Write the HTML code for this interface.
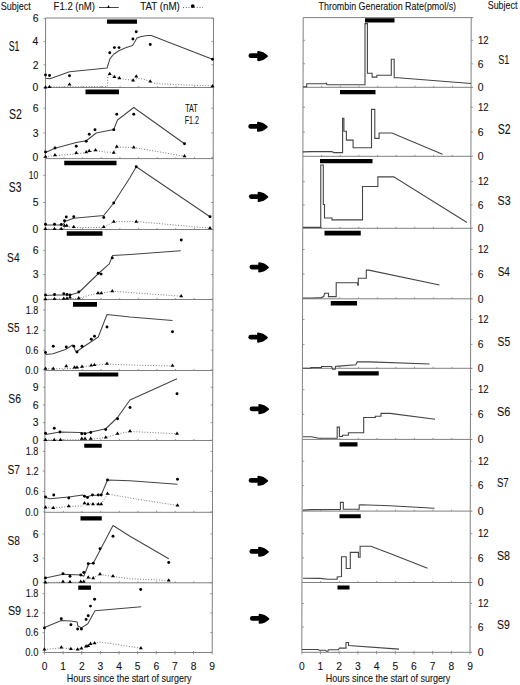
<!DOCTYPE html>
<html><head><meta charset="utf-8"><style>
html,body{margin:0;padding:0;background:#fff;}
svg{display:block;}
text{font-family:"Liberation Sans",sans-serif;stroke:#1a1a1a;stroke-width:0.1px;}
</style></head><body>
<svg width="520" height="685" viewBox="0 0 520 685">
<rect width="520" height="685" fill="#fff"/>
<text x="0.63" y="9.90" font-size="11.01" textLength="30.14" lengthAdjust="spacingAndGlyphs" fill="#111">Subject</text>
<text x="53.58" y="9.70" font-size="10.18" textLength="41.44" lengthAdjust="spacingAndGlyphs" fill="#111">F1.2 (nM)</text>
<polyline points="99.00,7.50 118.75,7.50" fill="none" stroke="#454545" stroke-width="1"/>
<path d="M107.1,7.9L108.5,5.0L109.9,7.9Z" fill="#000"/>
<text x="140.25" y="9.70" font-size="10.60" textLength="39.60" lengthAdjust="spacingAndGlyphs" fill="#111">TAT (nM)</text>
<polyline points="183.00,7.50 203.00,7.50" fill="none" stroke="#6a6a6a" stroke-width="1" stroke-dasharray="1,1.75"/>
<circle cx="192.75" cy="6.10" r="1.85"/>
<text x="318.57" y="10.20" font-size="10.32" textLength="137.49" lengthAdjust="spacingAndGlyphs" fill="#111">Thrombin Generation Rate(pmol/s)</text>
<text x="487.73" y="8.75" font-size="10.67" textLength="29.73" lengthAdjust="spacingAndGlyphs" fill="#111">Subject</text>
<g stroke="#808080" stroke-width="1" fill="none">
<line x1="45.60" y1="18.0" x2="44.50" y2="652.5"/>
<line x1="213.50" y1="18.0" x2="212.20" y2="652.5"/>
<line x1="45.60" y1="18.0" x2="213.50" y2="18.0"/>
<line x1="45.48" y1="87.5" x2="213.36" y2="87.5"/>
<line x1="45.36" y1="158.6" x2="213.21" y2="158.6"/>
<line x1="45.23" y1="229.5" x2="213.07" y2="229.5"/>
<line x1="45.11" y1="299.5" x2="212.92" y2="299.5"/>
<line x1="44.99" y1="370.5" x2="212.78" y2="370.5"/>
<line x1="44.87" y1="440.5" x2="212.63" y2="440.5"/>
<line x1="44.74" y1="512.3" x2="212.49" y2="512.3"/>
<line x1="44.62" y1="582.8" x2="212.34" y2="582.8"/>
<line x1="44.50" y1="652.5" x2="212.20" y2="652.5"/>
</g>
<g stroke="#808080" stroke-width="0.8">
<line x1="43.60" y1="18.6" x2="45.60" y2="18.6"/>
<line x1="211.50" y1="18.6" x2="213.50" y2="18.6"/>
<line x1="43.56" y1="41.45" x2="45.56" y2="41.45"/>
<line x1="211.45" y1="41.45" x2="213.45" y2="41.45"/>
<line x1="43.52" y1="64.8" x2="45.52" y2="64.8"/>
<line x1="211.40" y1="64.8" x2="213.40" y2="64.8"/>
<line x1="43.48" y1="87.5" x2="45.48" y2="87.5"/>
<line x1="211.36" y1="87.5" x2="213.36" y2="87.5"/>
<line x1="43.44" y1="108.2" x2="45.44" y2="108.2"/>
<line x1="211.32" y1="108.2" x2="213.32" y2="108.2"/>
<line x1="43.40" y1="132.9" x2="45.40" y2="132.9"/>
<line x1="211.26" y1="132.9" x2="213.26" y2="132.9"/>
<line x1="43.36" y1="157.5" x2="45.36" y2="157.5"/>
<line x1="211.21" y1="157.5" x2="213.21" y2="157.5"/>
<line x1="43.33" y1="175.3" x2="45.33" y2="175.3"/>
<line x1="211.18" y1="175.3" x2="213.18" y2="175.3"/>
<line x1="43.28" y1="202.5" x2="45.28" y2="202.5"/>
<line x1="211.12" y1="202.5" x2="213.12" y2="202.5"/>
<line x1="43.23" y1="229.3" x2="45.23" y2="229.3"/>
<line x1="211.07" y1="229.3" x2="213.07" y2="229.3"/>
<line x1="43.20" y1="250.3" x2="45.20" y2="250.3"/>
<line x1="211.02" y1="250.3" x2="213.02" y2="250.3"/>
<line x1="43.16" y1="274.6" x2="45.16" y2="274.6"/>
<line x1="210.97" y1="274.6" x2="212.97" y2="274.6"/>
<line x1="43.11" y1="299.3" x2="45.11" y2="299.3"/>
<line x1="210.92" y1="299.3" x2="212.92" y2="299.3"/>
<line x1="43.09" y1="310.0" x2="45.09" y2="310.0"/>
<line x1="210.90" y1="310.0" x2="212.90" y2="310.0"/>
<line x1="43.06" y1="330.3" x2="45.06" y2="330.3"/>
<line x1="210.86" y1="330.3" x2="212.86" y2="330.3"/>
<line x1="43.02" y1="350.2" x2="45.02" y2="350.2"/>
<line x1="210.82" y1="350.2" x2="212.82" y2="350.2"/>
<line x1="42.99" y1="369.8" x2="44.99" y2="369.8"/>
<line x1="210.78" y1="369.8" x2="212.78" y2="369.8"/>
<line x1="42.96" y1="387.3" x2="44.96" y2="387.3"/>
<line x1="210.74" y1="387.3" x2="212.74" y2="387.3"/>
<line x1="42.93" y1="405.1" x2="44.93" y2="405.1"/>
<line x1="210.71" y1="405.1" x2="212.71" y2="405.1"/>
<line x1="42.90" y1="422.6" x2="44.90" y2="422.6"/>
<line x1="210.67" y1="422.6" x2="212.67" y2="422.6"/>
<line x1="42.87" y1="440.2" x2="44.87" y2="440.2"/>
<line x1="210.63" y1="440.2" x2="212.63" y2="440.2"/>
<line x1="42.85" y1="451.4" x2="44.85" y2="451.4"/>
<line x1="210.61" y1="451.4" x2="212.61" y2="451.4"/>
<line x1="42.81" y1="471.0" x2="44.81" y2="471.0"/>
<line x1="210.57" y1="471.0" x2="212.57" y2="471.0"/>
<line x1="42.78" y1="491.5" x2="44.78" y2="491.5"/>
<line x1="210.53" y1="491.5" x2="212.53" y2="491.5"/>
<line x1="42.74" y1="511.9" x2="44.74" y2="511.9"/>
<line x1="210.49" y1="511.9" x2="212.49" y2="511.9"/>
<line x1="42.71" y1="533.9" x2="44.71" y2="533.9"/>
<line x1="210.44" y1="533.9" x2="212.44" y2="533.9"/>
<line x1="42.66" y1="558.2" x2="44.66" y2="558.2"/>
<line x1="210.39" y1="558.2" x2="212.39" y2="558.2"/>
<line x1="42.62" y1="582.6" x2="44.62" y2="582.6"/>
<line x1="210.34" y1="582.6" x2="212.34" y2="582.6"/>
<line x1="42.60" y1="593.7" x2="44.60" y2="593.7"/>
<line x1="210.32" y1="593.7" x2="212.32" y2="593.7"/>
<line x1="42.57" y1="613.0" x2="44.57" y2="613.0"/>
<line x1="210.28" y1="613.0" x2="212.28" y2="613.0"/>
<line x1="42.53" y1="632.6" x2="44.53" y2="632.6"/>
<line x1="210.24" y1="632.6" x2="212.24" y2="632.6"/>
<line x1="42.50" y1="652.3" x2="44.50" y2="652.3"/>
<line x1="210.20" y1="652.3" x2="212.20" y2="652.3"/>
</g>
<text x="32.66" y="22.35" font-size="10.40" textLength="5.78" lengthAdjust="spacingAndGlyphs" fill="#111">6</text>
<text x="32.52" y="45.20" font-size="10.40" textLength="5.78" lengthAdjust="spacingAndGlyphs" fill="#111">4</text>
<text x="32.73" y="68.55" font-size="10.40" textLength="5.78" lengthAdjust="spacingAndGlyphs" fill="#111">2</text>
<text x="32.59" y="91.25" font-size="10.40" textLength="5.78" lengthAdjust="spacingAndGlyphs" fill="#111">0</text>
<text x="32.66" y="111.95" font-size="10.40" textLength="5.78" lengthAdjust="spacingAndGlyphs" fill="#111">6</text>
<text x="32.66" y="136.65" font-size="10.40" textLength="5.78" lengthAdjust="spacingAndGlyphs" fill="#111">3</text>
<text x="32.59" y="161.25" font-size="10.40" textLength="5.78" lengthAdjust="spacingAndGlyphs" fill="#111">0</text>
<text x="28.85" y="179.05" font-size="10.40" textLength="9.49" lengthAdjust="spacingAndGlyphs" fill="#111">10</text>
<text x="32.66" y="206.25" font-size="10.40" textLength="5.78" lengthAdjust="spacingAndGlyphs" fill="#111">5</text>
<text x="32.59" y="233.05" font-size="10.40" textLength="5.78" lengthAdjust="spacingAndGlyphs" fill="#111">0</text>
<text x="32.66" y="254.05" font-size="10.40" textLength="5.78" lengthAdjust="spacingAndGlyphs" fill="#111">6</text>
<text x="32.66" y="278.35" font-size="10.40" textLength="5.78" lengthAdjust="spacingAndGlyphs" fill="#111">3</text>
<text x="32.59" y="303.05" font-size="10.40" textLength="5.78" lengthAdjust="spacingAndGlyphs" fill="#111">0</text>
<text x="25.82" y="313.75" font-size="10.40" textLength="12.58" lengthAdjust="spacingAndGlyphs" fill="#111">1.8</text>
<text x="25.88" y="334.05" font-size="10.40" textLength="12.58" lengthAdjust="spacingAndGlyphs" fill="#111">1.2</text>
<text x="25.40" y="353.95" font-size="10.40" textLength="13.01" lengthAdjust="spacingAndGlyphs" fill="#111">0.6</text>
<text x="25.33" y="373.55" font-size="10.40" textLength="13.01" lengthAdjust="spacingAndGlyphs" fill="#111">0.0</text>
<text x="32.73" y="391.05" font-size="10.40" textLength="5.78" lengthAdjust="spacingAndGlyphs" fill="#111">9</text>
<text x="32.66" y="408.85" font-size="10.40" textLength="5.78" lengthAdjust="spacingAndGlyphs" fill="#111">6</text>
<text x="32.66" y="426.35" font-size="10.40" textLength="5.78" lengthAdjust="spacingAndGlyphs" fill="#111">3</text>
<text x="32.59" y="443.95" font-size="10.40" textLength="5.78" lengthAdjust="spacingAndGlyphs" fill="#111">0</text>
<text x="25.82" y="455.15" font-size="10.40" textLength="12.58" lengthAdjust="spacingAndGlyphs" fill="#111">1.8</text>
<text x="25.88" y="474.75" font-size="10.40" textLength="12.58" lengthAdjust="spacingAndGlyphs" fill="#111">1.2</text>
<text x="25.40" y="495.25" font-size="10.40" textLength="13.01" lengthAdjust="spacingAndGlyphs" fill="#111">0.6</text>
<text x="25.33" y="515.65" font-size="10.40" textLength="13.01" lengthAdjust="spacingAndGlyphs" fill="#111">0.0</text>
<text x="32.66" y="537.65" font-size="10.40" textLength="5.78" lengthAdjust="spacingAndGlyphs" fill="#111">6</text>
<text x="32.66" y="561.95" font-size="10.40" textLength="5.78" lengthAdjust="spacingAndGlyphs" fill="#111">3</text>
<text x="32.59" y="586.35" font-size="10.40" textLength="5.78" lengthAdjust="spacingAndGlyphs" fill="#111">0</text>
<text x="25.82" y="597.45" font-size="10.40" textLength="12.58" lengthAdjust="spacingAndGlyphs" fill="#111">1.8</text>
<text x="25.88" y="616.75" font-size="10.40" textLength="12.58" lengthAdjust="spacingAndGlyphs" fill="#111">1.2</text>
<text x="25.40" y="636.35" font-size="10.40" textLength="13.01" lengthAdjust="spacingAndGlyphs" fill="#111">0.6</text>
<text x="25.33" y="656.05" font-size="10.40" textLength="13.01" lengthAdjust="spacingAndGlyphs" fill="#111">0.0</text>
<text x="8.69" y="50.80" font-size="14.00" textLength="10.75" lengthAdjust="spacingAndGlyphs" fill="#111">S1</text>
<text x="8.91" y="119.30" font-size="13.71" textLength="12.92" lengthAdjust="spacingAndGlyphs" fill="#111">S2</text>
<text x="8.82" y="191.90" font-size="14.00" textLength="12.63" lengthAdjust="spacingAndGlyphs" fill="#111">S3</text>
<text x="7.12" y="261.90" font-size="13.29" textLength="12.48" lengthAdjust="spacingAndGlyphs" fill="#111">S4</text>
<text x="7.34" y="332.30" font-size="13.00" textLength="12.09" lengthAdjust="spacingAndGlyphs" fill="#111">S5</text>
<text x="8.37" y="402.70" font-size="13.57" textLength="12.68" lengthAdjust="spacingAndGlyphs" fill="#111">S6</text>
<text x="7.52" y="473.90" font-size="12.43" textLength="12.48" lengthAdjust="spacingAndGlyphs" fill="#111">S7</text>
<text x="7.53" y="544.90" font-size="13.00" textLength="12.41" lengthAdjust="spacingAndGlyphs" fill="#111">S8</text>
<text x="7.89" y="614.90" font-size="12.57" textLength="13.24" lengthAdjust="spacingAndGlyphs" fill="#111">S9</text>
<g stroke="#808080" stroke-width="1" fill="none">
<line x1="303.20" y1="17.6" x2="301.80" y2="652.3"/>
<line x1="471.20" y1="17.6" x2="470.00" y2="652.3"/>
<line x1="303.20" y1="17.6" x2="473.20" y2="17.6"/>
<line x1="303.05" y1="87.3" x2="473.07" y2="87.3"/>
<line x1="302.89" y1="156.3" x2="472.94" y2="156.3"/>
<line x1="302.74" y1="228.3" x2="472.80" y2="228.3"/>
<line x1="302.58" y1="298.8" x2="472.67" y2="298.8"/>
<line x1="302.43" y1="368.3" x2="472.54" y2="368.3"/>
<line x1="302.27" y1="439.4" x2="472.40" y2="439.4"/>
<line x1="302.11" y1="511.1" x2="472.27" y2="511.1"/>
<line x1="301.95" y1="582.5" x2="472.13" y2="582.5"/>
<line x1="301.80" y1="652.3" x2="472.00" y2="652.3"/>
</g>
<g stroke="#808080" stroke-width="0.8">
<line x1="303.15" y1="40.3" x2="305.15" y2="40.3"/>
<line x1="471.16" y1="40.3" x2="473.16" y2="40.3"/>
<line x1="303.10" y1="63.8" x2="305.10" y2="63.8"/>
<line x1="471.11" y1="63.8" x2="473.11" y2="63.8"/>
<line x1="303.00" y1="107.3" x2="305.00" y2="107.3"/>
<line x1="471.03" y1="107.3" x2="473.03" y2="107.3"/>
<line x1="302.95" y1="132.2" x2="304.95" y2="132.2"/>
<line x1="470.98" y1="132.2" x2="472.98" y2="132.2"/>
<line x1="302.84" y1="181.6" x2="304.84" y2="181.6"/>
<line x1="470.89" y1="181.6" x2="472.89" y2="181.6"/>
<line x1="302.79" y1="205.0" x2="304.79" y2="205.0"/>
<line x1="470.85" y1="205.0" x2="472.85" y2="205.0"/>
<line x1="302.69" y1="249.5" x2="304.69" y2="249.5"/>
<line x1="470.76" y1="249.5" x2="472.76" y2="249.5"/>
<line x1="302.63" y1="274.0" x2="304.63" y2="274.0"/>
<line x1="470.72" y1="274.0" x2="472.72" y2="274.0"/>
<line x1="302.53" y1="319.6" x2="304.53" y2="319.6"/>
<line x1="470.63" y1="319.6" x2="472.63" y2="319.6"/>
<line x1="302.48" y1="344.4" x2="304.48" y2="344.4"/>
<line x1="470.58" y1="344.4" x2="472.58" y2="344.4"/>
<line x1="302.38" y1="389.6" x2="304.38" y2="389.6"/>
<line x1="470.50" y1="389.6" x2="472.50" y2="389.6"/>
<line x1="302.32" y1="414.4" x2="304.32" y2="414.4"/>
<line x1="470.45" y1="414.4" x2="472.45" y2="414.4"/>
<line x1="302.22" y1="461.2" x2="304.22" y2="461.2"/>
<line x1="470.36" y1="461.2" x2="472.36" y2="461.2"/>
<line x1="302.17" y1="485.6" x2="304.17" y2="485.6"/>
<line x1="470.32" y1="485.6" x2="472.32" y2="485.6"/>
<line x1="302.06" y1="533.7" x2="304.06" y2="533.7"/>
<line x1="470.22" y1="533.7" x2="472.22" y2="533.7"/>
<line x1="302.01" y1="558.0" x2="304.01" y2="558.0"/>
<line x1="470.18" y1="558.0" x2="472.18" y2="558.0"/>
<line x1="301.91" y1="603.5" x2="303.91" y2="603.5"/>
<line x1="470.09" y1="603.5" x2="472.09" y2="603.5"/>
<line x1="301.86" y1="627.1" x2="303.86" y2="627.1"/>
<line x1="470.05" y1="627.1" x2="472.05" y2="627.1"/>
</g>
<text x="477.90" y="44.05" font-size="10.40" textLength="10.64" lengthAdjust="spacingAndGlyphs" fill="#111">12</text>
<text x="477.65" y="67.55" font-size="10.40" textLength="5.78" lengthAdjust="spacingAndGlyphs" fill="#111">6</text>
<text x="477.78" y="91.05" font-size="10.40" textLength="5.78" lengthAdjust="spacingAndGlyphs" fill="#111">0</text>
<text x="477.90" y="111.05" font-size="10.40" textLength="10.64" lengthAdjust="spacingAndGlyphs" fill="#111">12</text>
<text x="477.65" y="135.95" font-size="10.40" textLength="5.78" lengthAdjust="spacingAndGlyphs" fill="#111">6</text>
<text x="477.78" y="160.05" font-size="10.40" textLength="5.78" lengthAdjust="spacingAndGlyphs" fill="#111">0</text>
<text x="477.90" y="185.35" font-size="10.40" textLength="10.64" lengthAdjust="spacingAndGlyphs" fill="#111">12</text>
<text x="477.65" y="208.75" font-size="10.40" textLength="5.78" lengthAdjust="spacingAndGlyphs" fill="#111">6</text>
<text x="477.78" y="232.05" font-size="10.40" textLength="5.78" lengthAdjust="spacingAndGlyphs" fill="#111">0</text>
<text x="477.90" y="253.25" font-size="10.40" textLength="10.64" lengthAdjust="spacingAndGlyphs" fill="#111">12</text>
<text x="477.65" y="277.75" font-size="10.40" textLength="5.78" lengthAdjust="spacingAndGlyphs" fill="#111">6</text>
<text x="477.78" y="302.55" font-size="10.40" textLength="5.78" lengthAdjust="spacingAndGlyphs" fill="#111">0</text>
<text x="477.90" y="323.35" font-size="10.40" textLength="10.64" lengthAdjust="spacingAndGlyphs" fill="#111">12</text>
<text x="477.65" y="348.15" font-size="10.40" textLength="5.78" lengthAdjust="spacingAndGlyphs" fill="#111">6</text>
<text x="477.78" y="372.05" font-size="10.40" textLength="5.78" lengthAdjust="spacingAndGlyphs" fill="#111">0</text>
<text x="477.90" y="393.35" font-size="10.40" textLength="10.64" lengthAdjust="spacingAndGlyphs" fill="#111">12</text>
<text x="477.65" y="418.15" font-size="10.40" textLength="5.78" lengthAdjust="spacingAndGlyphs" fill="#111">6</text>
<text x="477.78" y="443.15" font-size="10.40" textLength="5.78" lengthAdjust="spacingAndGlyphs" fill="#111">0</text>
<text x="477.90" y="464.95" font-size="10.40" textLength="10.64" lengthAdjust="spacingAndGlyphs" fill="#111">12</text>
<text x="477.65" y="489.35" font-size="10.40" textLength="5.78" lengthAdjust="spacingAndGlyphs" fill="#111">6</text>
<text x="477.78" y="514.85" font-size="10.40" textLength="5.78" lengthAdjust="spacingAndGlyphs" fill="#111">0</text>
<text x="477.90" y="537.45" font-size="10.40" textLength="10.64" lengthAdjust="spacingAndGlyphs" fill="#111">12</text>
<text x="477.65" y="561.75" font-size="10.40" textLength="5.78" lengthAdjust="spacingAndGlyphs" fill="#111">6</text>
<text x="477.78" y="586.25" font-size="10.40" textLength="5.78" lengthAdjust="spacingAndGlyphs" fill="#111">0</text>
<text x="477.90" y="607.25" font-size="10.40" textLength="10.64" lengthAdjust="spacingAndGlyphs" fill="#111">12</text>
<text x="477.65" y="630.85" font-size="10.40" textLength="5.78" lengthAdjust="spacingAndGlyphs" fill="#111">6</text>
<text x="477.78" y="656.05" font-size="10.40" textLength="5.78" lengthAdjust="spacingAndGlyphs" fill="#111">0</text>
<text x="498.27" y="64.00" font-size="13.43" textLength="11.18" lengthAdjust="spacingAndGlyphs" fill="#111">S1</text>
<text x="497.81" y="133.80" font-size="13.71" textLength="12.92" lengthAdjust="spacingAndGlyphs" fill="#111">S2</text>
<text x="497.60" y="205.40" font-size="13.14" textLength="13.06" lengthAdjust="spacingAndGlyphs" fill="#111">S3</text>
<text x="497.64" y="275.80" font-size="13.14" textLength="12.16" lengthAdjust="spacingAndGlyphs" fill="#111">S4</text>
<text x="497.62" y="346.10" font-size="13.14" textLength="12.63" lengthAdjust="spacingAndGlyphs" fill="#111">S5</text>
<text x="496.89" y="416.20" font-size="13.14" textLength="13.38" lengthAdjust="spacingAndGlyphs" fill="#111">S6</text>
<text x="496.95" y="487.20" font-size="12.86" textLength="11.72" lengthAdjust="spacingAndGlyphs" fill="#111">S7</text>
<text x="496.90" y="559.50" font-size="13.14" textLength="13.06" lengthAdjust="spacingAndGlyphs" fill="#111">S8</text>
<text x="496.91" y="629.10" font-size="13.14" textLength="12.81" lengthAdjust="spacingAndGlyphs" fill="#111">S9</text>
<g stroke="#808080" stroke-width="0.8">
<line x1="64.13" y1="86.0" x2="64.13" y2="87.5"/>
<line x1="82.79" y1="86.0" x2="82.79" y2="87.5"/>
<line x1="101.44" y1="86.0" x2="101.44" y2="87.5"/>
<line x1="120.09" y1="86.0" x2="120.09" y2="87.5"/>
<line x1="138.75" y1="86.0" x2="138.75" y2="87.5"/>
<line x1="157.40" y1="86.0" x2="157.40" y2="87.5"/>
<line x1="176.05" y1="86.0" x2="176.05" y2="87.5"/>
<line x1="194.70" y1="86.0" x2="194.70" y2="87.5"/>
<line x1="64.01" y1="157.1" x2="64.01" y2="158.6"/>
<line x1="82.66" y1="157.1" x2="82.66" y2="158.6"/>
<line x1="101.31" y1="157.1" x2="101.31" y2="158.6"/>
<line x1="119.96" y1="157.1" x2="119.96" y2="158.6"/>
<line x1="138.61" y1="157.1" x2="138.61" y2="158.6"/>
<line x1="157.26" y1="157.1" x2="157.26" y2="158.6"/>
<line x1="175.91" y1="157.1" x2="175.91" y2="158.6"/>
<line x1="194.56" y1="157.1" x2="194.56" y2="158.6"/>
<line x1="63.88" y1="228.0" x2="63.88" y2="229.5"/>
<line x1="82.53" y1="228.0" x2="82.53" y2="229.5"/>
<line x1="101.18" y1="228.0" x2="101.18" y2="229.5"/>
<line x1="119.83" y1="228.0" x2="119.83" y2="229.5"/>
<line x1="138.47" y1="228.0" x2="138.47" y2="229.5"/>
<line x1="157.12" y1="228.0" x2="157.12" y2="229.5"/>
<line x1="175.77" y1="228.0" x2="175.77" y2="229.5"/>
<line x1="194.42" y1="228.0" x2="194.42" y2="229.5"/>
<line x1="63.76" y1="298.0" x2="63.76" y2="299.5"/>
<line x1="82.40" y1="298.0" x2="82.40" y2="299.5"/>
<line x1="101.05" y1="298.0" x2="101.05" y2="299.5"/>
<line x1="119.69" y1="298.0" x2="119.69" y2="299.5"/>
<line x1="138.34" y1="298.0" x2="138.34" y2="299.5"/>
<line x1="156.99" y1="298.0" x2="156.99" y2="299.5"/>
<line x1="175.63" y1="298.0" x2="175.63" y2="299.5"/>
<line x1="194.28" y1="298.0" x2="194.28" y2="299.5"/>
<line x1="63.63" y1="369.0" x2="63.63" y2="370.5"/>
<line x1="82.28" y1="369.0" x2="82.28" y2="370.5"/>
<line x1="100.92" y1="369.0" x2="100.92" y2="370.5"/>
<line x1="119.56" y1="369.0" x2="119.56" y2="370.5"/>
<line x1="138.20" y1="369.0" x2="138.20" y2="370.5"/>
<line x1="156.85" y1="369.0" x2="156.85" y2="370.5"/>
<line x1="175.49" y1="369.0" x2="175.49" y2="370.5"/>
<line x1="194.13" y1="369.0" x2="194.13" y2="370.5"/>
<line x1="63.51" y1="439.0" x2="63.51" y2="440.5"/>
<line x1="82.15" y1="439.0" x2="82.15" y2="440.5"/>
<line x1="100.79" y1="439.0" x2="100.79" y2="440.5"/>
<line x1="119.43" y1="439.0" x2="119.43" y2="440.5"/>
<line x1="138.07" y1="439.0" x2="138.07" y2="440.5"/>
<line x1="156.71" y1="439.0" x2="156.71" y2="440.5"/>
<line x1="175.35" y1="439.0" x2="175.35" y2="440.5"/>
<line x1="193.99" y1="439.0" x2="193.99" y2="440.5"/>
<line x1="63.38" y1="510.79999999999995" x2="63.38" y2="512.3"/>
<line x1="82.02" y1="510.79999999999995" x2="82.02" y2="512.3"/>
<line x1="100.66" y1="510.79999999999995" x2="100.66" y2="512.3"/>
<line x1="119.30" y1="510.79999999999995" x2="119.30" y2="512.3"/>
<line x1="137.93" y1="510.79999999999995" x2="137.93" y2="512.3"/>
<line x1="156.57" y1="510.79999999999995" x2="156.57" y2="512.3"/>
<line x1="175.21" y1="510.79999999999995" x2="175.21" y2="512.3"/>
<line x1="193.85" y1="510.79999999999995" x2="193.85" y2="512.3"/>
<line x1="63.26" y1="581.3" x2="63.26" y2="582.8"/>
<line x1="81.89" y1="581.3" x2="81.89" y2="582.8"/>
<line x1="100.53" y1="581.3" x2="100.53" y2="582.8"/>
<line x1="119.16" y1="581.3" x2="119.16" y2="582.8"/>
<line x1="137.80" y1="581.3" x2="137.80" y2="582.8"/>
<line x1="156.44" y1="581.3" x2="156.44" y2="582.8"/>
<line x1="175.07" y1="581.3" x2="175.07" y2="582.8"/>
<line x1="193.71" y1="581.3" x2="193.71" y2="582.8"/>
<line x1="63.13" y1="651.0" x2="63.13" y2="652.5"/>
<line x1="81.77" y1="651.0" x2="81.77" y2="652.5"/>
<line x1="100.40" y1="651.0" x2="100.40" y2="652.5"/>
<line x1="119.03" y1="651.0" x2="119.03" y2="652.5"/>
<line x1="137.67" y1="651.0" x2="137.67" y2="652.5"/>
<line x1="156.30" y1="651.0" x2="156.30" y2="652.5"/>
<line x1="174.93" y1="651.0" x2="174.93" y2="652.5"/>
<line x1="193.57" y1="651.0" x2="193.57" y2="652.5"/>
<line x1="321.72" y1="85.8" x2="321.72" y2="87.3"/>
<line x1="340.38" y1="85.8" x2="340.38" y2="87.3"/>
<line x1="359.05" y1="85.8" x2="359.05" y2="87.3"/>
<line x1="377.72" y1="85.8" x2="377.72" y2="87.3"/>
<line x1="396.39" y1="85.8" x2="396.39" y2="87.3"/>
<line x1="415.06" y1="85.8" x2="415.06" y2="87.3"/>
<line x1="433.73" y1="85.8" x2="433.73" y2="87.3"/>
<line x1="452.40" y1="85.8" x2="452.40" y2="87.3"/>
<line x1="321.57" y1="154.8" x2="321.57" y2="156.3"/>
<line x1="340.24" y1="154.8" x2="340.24" y2="156.3"/>
<line x1="358.91" y1="154.8" x2="358.91" y2="156.3"/>
<line x1="377.58" y1="154.8" x2="377.58" y2="156.3"/>
<line x1="396.25" y1="154.8" x2="396.25" y2="156.3"/>
<line x1="414.92" y1="154.8" x2="414.92" y2="156.3"/>
<line x1="433.59" y1="154.8" x2="433.59" y2="156.3"/>
<line x1="452.27" y1="154.8" x2="452.27" y2="156.3"/>
<line x1="321.41" y1="226.8" x2="321.41" y2="228.3"/>
<line x1="340.08" y1="226.8" x2="340.08" y2="228.3"/>
<line x1="358.76" y1="226.8" x2="358.76" y2="228.3"/>
<line x1="377.43" y1="226.8" x2="377.43" y2="228.3"/>
<line x1="396.11" y1="226.8" x2="396.11" y2="228.3"/>
<line x1="414.78" y1="226.8" x2="414.78" y2="228.3"/>
<line x1="433.45" y1="226.8" x2="433.45" y2="228.3"/>
<line x1="452.13" y1="226.8" x2="452.13" y2="228.3"/>
<line x1="321.26" y1="297.3" x2="321.26" y2="298.8"/>
<line x1="339.93" y1="297.3" x2="339.93" y2="298.8"/>
<line x1="358.61" y1="297.3" x2="358.61" y2="298.8"/>
<line x1="377.29" y1="297.3" x2="377.29" y2="298.8"/>
<line x1="395.96" y1="297.3" x2="395.96" y2="298.8"/>
<line x1="414.64" y1="297.3" x2="414.64" y2="298.8"/>
<line x1="433.32" y1="297.3" x2="433.32" y2="298.8"/>
<line x1="451.99" y1="297.3" x2="451.99" y2="298.8"/>
<line x1="321.11" y1="366.8" x2="321.11" y2="368.3"/>
<line x1="339.78" y1="366.8" x2="339.78" y2="368.3"/>
<line x1="358.46" y1="366.8" x2="358.46" y2="368.3"/>
<line x1="377.14" y1="366.8" x2="377.14" y2="368.3"/>
<line x1="395.82" y1="366.8" x2="395.82" y2="368.3"/>
<line x1="414.50" y1="366.8" x2="414.50" y2="368.3"/>
<line x1="433.18" y1="366.8" x2="433.18" y2="368.3"/>
<line x1="451.86" y1="366.8" x2="451.86" y2="368.3"/>
<line x1="320.95" y1="437.9" x2="320.95" y2="439.4"/>
<line x1="339.63" y1="437.9" x2="339.63" y2="439.4"/>
<line x1="358.31" y1="437.9" x2="358.31" y2="439.4"/>
<line x1="377.00" y1="437.9" x2="377.00" y2="439.4"/>
<line x1="395.68" y1="437.9" x2="395.68" y2="439.4"/>
<line x1="414.36" y1="437.9" x2="414.36" y2="439.4"/>
<line x1="433.04" y1="437.9" x2="433.04" y2="439.4"/>
<line x1="451.72" y1="437.9" x2="451.72" y2="439.4"/>
<line x1="320.80" y1="509.6" x2="320.80" y2="511.1"/>
<line x1="339.48" y1="509.6" x2="339.48" y2="511.1"/>
<line x1="358.16" y1="509.6" x2="358.16" y2="511.1"/>
<line x1="376.85" y1="509.6" x2="376.85" y2="511.1"/>
<line x1="395.53" y1="509.6" x2="395.53" y2="511.1"/>
<line x1="414.22" y1="509.6" x2="414.22" y2="511.1"/>
<line x1="432.90" y1="509.6" x2="432.90" y2="511.1"/>
<line x1="451.58" y1="509.6" x2="451.58" y2="511.1"/>
<line x1="320.64" y1="581.0" x2="320.64" y2="582.5"/>
<line x1="339.33" y1="581.0" x2="339.33" y2="582.5"/>
<line x1="358.01" y1="581.0" x2="358.01" y2="582.5"/>
<line x1="376.70" y1="581.0" x2="376.70" y2="582.5"/>
<line x1="395.39" y1="581.0" x2="395.39" y2="582.5"/>
<line x1="414.07" y1="581.0" x2="414.07" y2="582.5"/>
<line x1="432.76" y1="581.0" x2="432.76" y2="582.5"/>
<line x1="451.45" y1="581.0" x2="451.45" y2="582.5"/>
<line x1="320.49" y1="650.8" x2="320.49" y2="652.3"/>
<line x1="339.18" y1="650.8" x2="339.18" y2="652.3"/>
<line x1="357.87" y1="650.8" x2="357.87" y2="652.3"/>
<line x1="376.56" y1="650.8" x2="376.56" y2="652.3"/>
<line x1="395.24" y1="650.8" x2="395.24" y2="652.3"/>
<line x1="413.93" y1="650.8" x2="413.93" y2="652.3"/>
<line x1="432.62" y1="650.8" x2="432.62" y2="652.3"/>
<line x1="451.31" y1="650.8" x2="451.31" y2="652.3"/>
<line x1="44.50" y1="652.5" x2="44.50" y2="654.5"/>
<line x1="301.80" y1="652.3" x2="301.80" y2="654.3"/>
<line x1="63.13" y1="652.5" x2="63.13" y2="654.5"/>
<line x1="320.49" y1="652.3" x2="320.49" y2="654.3"/>
<line x1="81.77" y1="652.5" x2="81.77" y2="654.5"/>
<line x1="339.18" y1="652.3" x2="339.18" y2="654.3"/>
<line x1="100.40" y1="652.5" x2="100.40" y2="654.5"/>
<line x1="357.87" y1="652.3" x2="357.87" y2="654.3"/>
<line x1="119.03" y1="652.5" x2="119.03" y2="654.5"/>
<line x1="376.56" y1="652.3" x2="376.56" y2="654.3"/>
<line x1="137.67" y1="652.5" x2="137.67" y2="654.5"/>
<line x1="395.24" y1="652.3" x2="395.24" y2="654.3"/>
<line x1="156.30" y1="652.5" x2="156.30" y2="654.5"/>
<line x1="413.93" y1="652.3" x2="413.93" y2="654.3"/>
<line x1="174.93" y1="652.5" x2="174.93" y2="654.5"/>
<line x1="432.62" y1="652.3" x2="432.62" y2="654.3"/>
<line x1="193.57" y1="652.5" x2="193.57" y2="654.5"/>
<line x1="451.31" y1="652.3" x2="451.31" y2="654.3"/>
<line x1="212.20" y1="652.5" x2="212.20" y2="654.5"/>
<line x1="470.00" y1="652.3" x2="470.00" y2="654.3"/>
</g>
<text x="41.63" y="669.80" font-size="10.80" textLength="5.71" lengthAdjust="spacingAndGlyphs" fill="#111">0</text>
<text x="298.93" y="669.60" font-size="10.80" textLength="5.71" lengthAdjust="spacingAndGlyphs" fill="#111">0</text>
<text x="60.16" y="669.80" font-size="10.80" textLength="5.71" lengthAdjust="spacingAndGlyphs" fill="#111">1</text>
<text x="317.51" y="669.60" font-size="10.80" textLength="5.71" lengthAdjust="spacingAndGlyphs" fill="#111">1</text>
<text x="78.89" y="669.80" font-size="10.80" textLength="5.71" lengthAdjust="spacingAndGlyphs" fill="#111">2</text>
<text x="336.30" y="669.60" font-size="10.80" textLength="5.71" lengthAdjust="spacingAndGlyphs" fill="#111">2</text>
<text x="97.56" y="669.80" font-size="10.80" textLength="5.71" lengthAdjust="spacingAndGlyphs" fill="#111">3</text>
<text x="355.03" y="669.60" font-size="10.80" textLength="5.71" lengthAdjust="spacingAndGlyphs" fill="#111">3</text>
<text x="116.23" y="669.80" font-size="10.80" textLength="5.71" lengthAdjust="spacingAndGlyphs" fill="#111">4</text>
<text x="373.75" y="669.60" font-size="10.80" textLength="5.71" lengthAdjust="spacingAndGlyphs" fill="#111">4</text>
<text x="134.83" y="669.80" font-size="10.80" textLength="5.71" lengthAdjust="spacingAndGlyphs" fill="#111">5</text>
<text x="392.41" y="669.60" font-size="10.80" textLength="5.71" lengthAdjust="spacingAndGlyphs" fill="#111">5</text>
<text x="153.39" y="669.80" font-size="10.80" textLength="5.71" lengthAdjust="spacingAndGlyphs" fill="#111">6</text>
<text x="411.03" y="669.60" font-size="10.80" textLength="5.71" lengthAdjust="spacingAndGlyphs" fill="#111">6</text>
<text x="172.06" y="669.80" font-size="10.80" textLength="5.71" lengthAdjust="spacingAndGlyphs" fill="#111">7</text>
<text x="429.75" y="669.60" font-size="10.80" textLength="5.71" lengthAdjust="spacingAndGlyphs" fill="#111">7</text>
<text x="190.69" y="669.80" font-size="10.80" textLength="5.71" lengthAdjust="spacingAndGlyphs" fill="#111">8</text>
<text x="448.44" y="669.60" font-size="10.80" textLength="5.71" lengthAdjust="spacingAndGlyphs" fill="#111">8</text>
<text x="209.36" y="669.80" font-size="10.80" textLength="5.71" lengthAdjust="spacingAndGlyphs" fill="#111">9</text>
<text x="467.16" y="669.60" font-size="10.80" textLength="5.71" lengthAdjust="spacingAndGlyphs" fill="#111">9</text>
<text x="66.73" y="682.20" font-size="10.46" textLength="124.83" lengthAdjust="spacingAndGlyphs" fill="#111">Hours since the start of surgery</text>
<text x="325.68" y="682.00" font-size="10.46" textLength="124.68" lengthAdjust="spacingAndGlyphs" fill="#111">Hours since the start of surgery</text>
<rect x="107.00" y="19.50" width="30.00" height="4.25" fill="#000"/>
<rect x="85.50" y="89.50" width="33.50" height="4.75" fill="#000"/>
<rect x="64.25" y="160.75" width="52.25" height="4.50" fill="#000"/>
<rect x="66.75" y="231.25" width="35.75" height="4.50" fill="#000"/>
<rect x="73.00" y="302.00" width="24.00" height="4.75" fill="#000"/>
<rect x="78.75" y="372.50" width="39.50" height="4.00" fill="#000"/>
<rect x="84.25" y="443.75" width="17.50" height="4.00" fill="#000"/>
<rect x="80.50" y="516.25" width="21.25" height="4.25" fill="#000"/>
<rect x="78.25" y="585.50" width="12.75" height="4.30" fill="#000"/>
<rect x="365.00" y="18.25" width="29.50" height="4.25" fill="#000"/>
<rect x="340.00" y="90.00" width="35.50" height="4.25" fill="#000"/>
<rect x="320.00" y="159.00" width="52.50" height="4.25" fill="#000"/>
<rect x="324.50" y="230.75" width="36.25" height="4.75" fill="#000"/>
<rect x="330.75" y="301.00" width="26.25" height="4.50" fill="#000"/>
<rect x="338.25" y="371.25" width="40.50" height="4.25" fill="#000"/>
<rect x="339.50" y="442.25" width="18.00" height="4.25" fill="#000"/>
<rect x="339.50" y="514.25" width="21.25" height="4.00" fill="#000"/>
<rect x="337.50" y="585.50" width="12.00" height="4.00" fill="#000"/>
<rect x="248.50" y="53.30" width="10.5" height="4.8" rx="2.4" fill="#000"/>
<path d="M258.10,51.80Q263.10,52.20 267.10,56.10Q263.10,60.00 258.10,60.30Z" fill="#000" stroke="#000" stroke-width="1.7" stroke-linejoin="round"/>
<rect x="248.30" y="124.00" width="10.5" height="4.8" rx="2.4" fill="#000"/>
<path d="M257.90,122.50Q262.90,122.90 266.90,126.80Q262.90,130.70 257.90,131.00Z" fill="#000" stroke="#000" stroke-width="1.7" stroke-linejoin="round"/>
<rect x="248.90" y="194.20" width="10.5" height="4.8" rx="2.4" fill="#000"/>
<path d="M258.50,192.70Q263.50,193.10 267.50,197.00Q263.50,200.90 258.50,201.20Z" fill="#000" stroke="#000" stroke-width="1.7" stroke-linejoin="round"/>
<rect x="249.50" y="264.70" width="10.5" height="4.8" rx="2.4" fill="#000"/>
<path d="M259.10,263.20Q264.10,263.60 268.10,267.50Q264.10,271.40 259.10,271.70Z" fill="#000" stroke="#000" stroke-width="1.7" stroke-linejoin="round"/>
<rect x="248.40" y="334.80" width="10.5" height="4.8" rx="2.4" fill="#000"/>
<path d="M258.00,333.30Q263.00,333.70 267.00,337.60Q263.00,341.50 258.00,341.80Z" fill="#000" stroke="#000" stroke-width="1.7" stroke-linejoin="round"/>
<rect x="249.60" y="406.40" width="10.5" height="4.8" rx="2.4" fill="#000"/>
<path d="M259.20,404.90Q264.20,405.30 268.20,409.20Q264.20,413.10 259.20,413.40Z" fill="#000" stroke="#000" stroke-width="1.7" stroke-linejoin="round"/>
<rect x="248.70" y="478.00" width="10.5" height="4.8" rx="2.4" fill="#000"/>
<path d="M258.30,476.50Q263.30,476.90 267.30,480.80Q263.30,484.70 258.30,485.00Z" fill="#000" stroke="#000" stroke-width="1.7" stroke-linejoin="round"/>
<rect x="249.40" y="549.00" width="10.5" height="4.8" rx="2.4" fill="#000"/>
<path d="M259.00,547.50Q264.00,547.90 268.00,551.80Q264.00,555.70 259.00,556.00Z" fill="#000" stroke="#000" stroke-width="1.7" stroke-linejoin="round"/>
<rect x="249.90" y="616.00" width="10.5" height="4.8" rx="2.4" fill="#000"/>
<path d="M259.50,614.50Q264.50,614.90 268.50,618.80Q264.50,622.70 259.50,623.00Z" fill="#000" stroke="#000" stroke-width="1.7" stroke-linejoin="round"/>
<polyline points="303.00,86.70 306.70,86.70 306.70,83.80 325.00,83.80 325.50,83.30 326.50,83.30 326.90,84.80 365.00,84.80 365.00,23.60 367.40,23.60 367.40,73.30 372.10,73.30 372.10,77.10 376.90,77.10 376.90,75.20 391.30,75.20 391.30,59.20 394.20,59.20 394.20,77.70 398.00,77.70 471.00,83.50" fill="none" stroke="#454545" stroke-width="1.1" stroke-linejoin="miter"/>
<polyline points="302.80,151.90 312.40,151.60 331.70,151.60 334.00,152.60 342.60,152.60 342.60,118.20 343.90,118.20 343.90,131.20 346.40,131.20 346.40,140.10 353.10,140.10 353.10,147.80 371.50,147.80 371.50,109.40 374.80,109.40 374.80,138.40 379.10,138.40 379.10,133.00 391.90,133.00 442.50,154.25" fill="none" stroke="#454545" stroke-width="1.1" stroke-linejoin="miter"/>
<polyline points="303.00,227.40 320.75,227.40 320.75,165.00 323.30,165.00 323.30,204.50 324.50,204.50 324.50,218.00 332.00,218.00 332.00,219.90 362.50,219.90 362.50,186.50 377.90,186.50 377.90,176.90 393.75,176.90 467.00,222.50" fill="none" stroke="#454545" stroke-width="1.1" stroke-linejoin="miter"/>
<polyline points="303.00,298.00 312.50,298.00 321.20,297.60 323.80,296.50 324.60,293.20 328.50,293.20 328.50,296.60 336.20,296.60 336.20,282.80 357.30,282.80 357.80,285.10 358.30,285.10 358.30,278.30 366.30,278.30 366.30,270.10 368.80,270.10 439.50,285.00" fill="none" stroke="#454545" stroke-width="1.1" stroke-linejoin="miter"/>
<polyline points="303.00,368.30 310.80,368.30 310.80,367.60 321.50,367.60 321.50,366.50 331.60,366.50 332.50,369.20 335.20,369.20 335.70,366.30 339.00,366.10 355.90,364.80 357.20,361.70 370.00,361.90 429.50,364.00" fill="none" stroke="#454545" stroke-width="1.1" stroke-linejoin="miter"/>
<polyline points="303.00,436.70 311.20,436.70 319.00,438.20 337.20,438.20 337.20,427.10 339.40,427.10 339.40,436.50 342.40,436.50 342.40,435.30 348.40,435.30 348.40,432.70 363.70,432.70 363.70,417.50 375.30,417.50 375.30,416.20 381.00,416.20 381.00,413.30 390.00,413.40 435.00,419.25" fill="none" stroke="#454545" stroke-width="1.1" stroke-linejoin="miter"/>
<polyline points="303.00,510.10 312.00,509.60 340.40,509.50 340.40,502.40 343.30,502.40 343.30,509.20 359.20,509.20 359.20,505.00 361.20,504.70 390.00,505.75 434.50,508.25" fill="none" stroke="#454545" stroke-width="1.1" stroke-linejoin="miter"/>
<polyline points="303.00,578.30 320.00,578.40 328.10,579.30 337.20,579.30 337.20,577.00 341.50,576.50 341.50,556.80 346.20,556.80 346.20,568.50 350.30,568.50 350.30,552.40 358.40,552.40 358.40,557.20 360.10,557.20 360.10,546.30 370.90,546.30 390.00,553.60 427.50,568.25" fill="none" stroke="#454545" stroke-width="1.1" stroke-linejoin="miter"/>
<polyline points="302.00,649.50 318.20,649.50 319.20,650.20 325.30,650.20 326.30,651.20 327.90,651.20 328.30,649.80 338.40,649.80 339.40,648.10 346.00,648.10 346.00,642.50 348.50,642.50 348.50,645.50 399.00,649.10" fill="none" stroke="#454545" stroke-width="1.1" stroke-linejoin="miter"/>
<polyline points="45.50,87.00 107.30,86.50 107.80,76.00 109.75,74.00 114.40,77.00 119.40,78.30 126.00,79.50 133.00,80.00 137.00,78.50 143.00,79.00 150.25,81.50 155.00,83.50 175.00,84.50 212.50,86.00" fill="none" stroke="#6a6a6a" stroke-width="0.9" stroke-dasharray="1,1.7"/>
<polyline points="45.50,78.25 50.00,78.75 69.50,71.75 107.10,68.00 110.00,58.60 113.75,54.25 118.75,50.75 125.00,48.00 132.50,45.50 134.40,42.40 136.90,38.00 141.25,36.50 147.50,35.50 151.25,35.50 212.50,59.25" fill="none" stroke="#454545" stroke-width="1.05" stroke-linejoin="round"/>
<polyline points="45.50,156.75 55.00,155.50 76.00,154.00 86.00,152.50 95.50,150.50 105.00,152.00 113.75,152.50 116.75,147.00 133.75,147.50 184.50,156.25" fill="none" stroke="#6a6a6a" stroke-width="0.9" stroke-dasharray="1,1.7"/>
<polyline points="45.50,152.50 55.00,148.25 76.25,142.50 86.25,140.75 96.25,133.00 113.75,129.50 117.50,120.00 133.75,107.50 184.50,143.75" fill="none" stroke="#454545" stroke-width="1.05" stroke-linejoin="round"/>
<polyline points="45.50,229.00 62.00,229.00 66.00,226.50 74.00,227.50 103.75,227.50 113.75,221.75 136.25,221.50 210.00,228.25" fill="none" stroke="#6a6a6a" stroke-width="0.9" stroke-dasharray="1,1.7"/>
<polyline points="45.50,225.00 62.50,225.00 65.50,221.25 73.75,218.25 103.75,215.50 113.75,203.00 118.75,195.00 130.00,177.50 136.25,166.75 210.00,216.75" fill="none" stroke="#454545" stroke-width="1.05" stroke-linejoin="round"/>
<polyline points="45.50,299.25 78.75,298.50 90.00,295.00 98.00,293.10 101.30,293.10 112.30,291.20 130.00,292.50 181.25,296.25" fill="none" stroke="#6a6a6a" stroke-width="0.9" stroke-dasharray="1,1.7"/>
<polyline points="45.50,295.50 54.50,295.00 70.00,295.00 78.75,292.50 98.75,273.25 109.30,263.90 112.60,255.50 130.00,254.50 180.75,250.75" fill="none" stroke="#454545" stroke-width="1.05" stroke-linejoin="round"/>
<polyline points="45.50,369.00 74.00,368.50 82.00,367.00 94.50,365.00 107.00,364.00 130.00,365.00 172.50,366.00" fill="none" stroke="#6a6a6a" stroke-width="0.9" stroke-dasharray="1,1.7"/>
<polyline points="45.50,354.50 53.00,353.75 65.50,349.50 72.50,345.00 74.00,346.50 75.00,350.00 76.25,352.00 82.50,347.50 98.25,337.00 107.00,314.50 130.00,317.00 172.50,320.50" fill="none" stroke="#454545" stroke-width="1.05" stroke-linejoin="round"/>
<polyline points="45.50,440.00 90.00,439.50 105.75,437.50 117.50,434.00 130.00,431.50 177.00,433.75" fill="none" stroke="#6a6a6a" stroke-width="0.9" stroke-dasharray="1,1.7"/>
<polyline points="45.50,434.50 60.00,432.00 80.00,432.50 86.25,433.25 91.25,432.00 105.75,428.75 117.50,417.50 130.00,400.00 177.00,378.75" fill="none" stroke="#454545" stroke-width="1.05" stroke-linejoin="round"/>
<polyline points="45.50,507.50 53.00,508.00 68.75,506.50 82.00,506.00 84.50,503.50 101.25,504.00 107.50,494.00 130.00,498.00 177.50,505.50" fill="none" stroke="#6a6a6a" stroke-width="0.9" stroke-dasharray="1,1.7"/>
<polyline points="45.50,497.50 50.00,498.75 68.75,497.00 82.50,495.00 86.25,497.00 91.25,495.50 101.25,495.00 107.50,480.00 130.00,480.75 177.50,484.25" fill="none" stroke="#454545" stroke-width="1.05" stroke-linejoin="round"/>
<polyline points="45.50,582.50 83.00,582.00 88.00,578.00 93.00,578.00 100.00,574.50 113.00,576.50 130.00,578.75 168.75,580.50" fill="none" stroke="#6a6a6a" stroke-width="0.9" stroke-dasharray="1,1.7"/>
<polyline points="45.50,578.00 63.00,574.25 81.25,575.00 83.75,576.25 88.75,563.75 93.25,563.25 113.00,525.50 130.00,536.25 168.75,558.75" fill="none" stroke="#454545" stroke-width="1.05" stroke-linejoin="round"/>
<polyline points="44.40,649.50 61.30,647.80 77.60,649.50 86.00,646.50 90.50,644.00 94.60,643.00 100.00,642.00 140.90,648.20" fill="none" stroke="#6a6a6a" stroke-width="0.9" stroke-dasharray="1,1.7"/>
<polyline points="44.50,627.50 61.30,620.50 70.90,621.10 77.20,622.00 77.80,625.80 81.40,627.90 87.80,623.70 95.00,610.80 141.20,606.80" fill="none" stroke="#454545" stroke-width="1.05" stroke-linejoin="round"/>
<g fill="#000">
<circle cx="45.50" cy="75.00" r="1.45"/>
<circle cx="49.50" cy="75.50" r="1.45"/>
<circle cx="69.50" cy="75.75" r="1.45"/>
<circle cx="109.75" cy="52.75" r="1.45"/>
<circle cx="114.40" cy="47.60" r="1.45"/>
<circle cx="119.00" cy="47.60" r="1.45"/>
<circle cx="132.90" cy="39.00" r="1.45"/>
<circle cx="136.25" cy="31.75" r="1.45"/>
<circle cx="150.25" cy="44.50" r="1.45"/>
<circle cx="212.50" cy="59.25" r="1.45"/>
<path d="M43.55,88.60L45.50,85.30L47.45,88.60Z"/>
<path d="M47.55,88.10L49.50,84.80L51.45,88.10Z"/>
<path d="M67.55,85.60L69.50,82.30L71.45,85.60Z"/>
<path d="M107.80,75.10L109.75,71.80L111.70,75.10Z"/>
<path d="M112.45,78.10L114.40,74.80L116.35,78.10Z"/>
<path d="M117.45,79.35L119.40,76.05L121.35,79.35Z"/>
<path d="M131.15,81.60L133.10,78.30L135.05,81.60Z"/>
<path d="M134.30,77.50L136.25,74.20L138.20,77.50Z"/>
<path d="M148.30,82.60L150.25,79.30L152.20,82.60Z"/>
<path d="M210.55,87.35L212.50,84.05L214.45,87.35Z"/>
<circle cx="45.50" cy="152.00" r="1.45"/>
<circle cx="55.00" cy="148.00" r="1.45"/>
<circle cx="76.25" cy="146.25" r="1.45"/>
<circle cx="86.25" cy="141.25" r="1.45"/>
<circle cx="89.25" cy="134.25" r="1.45"/>
<circle cx="95.00" cy="129.75" r="1.45"/>
<circle cx="113.75" cy="129.75" r="1.45"/>
<circle cx="116.75" cy="114.25" r="1.45"/>
<circle cx="133.75" cy="114.25" r="1.45"/>
<circle cx="184.50" cy="143.75" r="1.45"/>
<path d="M43.55,157.85L45.50,154.55L47.45,157.85Z"/>
<path d="M53.05,156.35L55.00,153.05L56.95,156.35Z"/>
<path d="M74.30,154.10L76.25,150.80L78.20,154.10Z"/>
<path d="M84.30,153.35L86.25,150.05L88.20,153.35Z"/>
<path d="M87.30,152.10L89.25,148.80L91.20,152.10Z"/>
<path d="M93.55,151.35L95.50,148.05L97.45,151.35Z"/>
<path d="M111.80,153.85L113.75,150.55L115.70,153.85Z"/>
<path d="M114.80,147.85L116.75,144.55L118.70,147.85Z"/>
<path d="M131.80,148.60L133.75,145.30L135.70,148.60Z"/>
<path d="M182.55,157.35L184.50,154.05L186.45,157.35Z"/>
<circle cx="45.50" cy="224.25" r="1.45"/>
<circle cx="54.50" cy="224.25" r="1.45"/>
<circle cx="61.25" cy="224.50" r="1.45"/>
<circle cx="64.50" cy="220.75" r="1.45"/>
<circle cx="66.25" cy="217.00" r="1.45"/>
<circle cx="73.75" cy="216.75" r="1.45"/>
<circle cx="103.75" cy="217.50" r="1.45"/>
<circle cx="113.75" cy="203.00" r="1.45"/>
<circle cx="136.25" cy="166.75" r="1.45"/>
<circle cx="210.00" cy="216.75" r="1.45"/>
<path d="M43.55,230.10L45.50,226.80L47.45,230.10Z"/>
<path d="M52.55,230.10L54.50,226.80L56.45,230.10Z"/>
<path d="M59.30,230.10L61.25,226.80L63.20,230.10Z"/>
<path d="M62.55,226.85L64.50,223.55L66.45,226.85Z"/>
<path d="M64.80,226.85L66.75,223.55L68.70,226.85Z"/>
<path d="M71.80,228.10L73.75,224.80L75.70,228.10Z"/>
<path d="M101.80,228.10L103.75,224.80L105.70,228.10Z"/>
<path d="M111.80,222.85L113.75,219.55L115.70,222.85Z"/>
<path d="M134.30,222.85L136.25,219.55L138.20,222.85Z"/>
<path d="M208.05,229.35L210.00,226.05L211.95,229.35Z"/>
<circle cx="45.50" cy="295.00" r="1.45"/>
<circle cx="54.50" cy="294.50" r="1.45"/>
<circle cx="63.75" cy="293.75" r="1.45"/>
<circle cx="67.00" cy="294.50" r="1.45"/>
<circle cx="70.00" cy="295.00" r="1.45"/>
<circle cx="78.75" cy="292.00" r="1.45"/>
<circle cx="98.20" cy="273.20" r="1.45"/>
<circle cx="101.10" cy="274.10" r="1.45"/>
<circle cx="112.30" cy="257.90" r="1.45"/>
<circle cx="181.25" cy="240.00" r="1.45"/>
<path d="M43.55,300.35L45.50,297.05L47.45,300.35Z"/>
<path d="M52.55,300.10L54.50,296.80L56.45,300.10Z"/>
<path d="M61.80,299.85L63.75,296.55L65.70,299.85Z"/>
<path d="M65.05,299.60L67.00,296.30L68.95,299.60Z"/>
<path d="M68.05,298.60L70.00,295.30L71.95,298.60Z"/>
<path d="M76.80,299.35L78.75,296.05L80.70,299.35Z"/>
<path d="M96.05,294.20L98.00,290.90L99.95,294.20Z"/>
<path d="M99.35,294.20L101.30,290.90L103.25,294.20Z"/>
<path d="M110.35,292.30L112.30,289.00L114.25,292.30Z"/>
<path d="M179.30,297.35L181.25,294.05L183.20,297.35Z"/>
<circle cx="45.50" cy="352.50" r="1.45"/>
<circle cx="53.25" cy="346.25" r="1.45"/>
<circle cx="66.25" cy="347.00" r="1.45"/>
<circle cx="73.75" cy="346.25" r="1.45"/>
<circle cx="77.00" cy="352.00" r="1.45"/>
<circle cx="82.00" cy="346.25" r="1.45"/>
<circle cx="91.25" cy="339.25" r="1.45"/>
<circle cx="94.50" cy="336.25" r="1.45"/>
<circle cx="107.00" cy="327.00" r="1.45"/>
<circle cx="172.50" cy="331.75" r="1.45"/>
<path d="M43.55,369.85L45.50,366.55L47.45,369.85Z"/>
<path d="M51.30,369.85L53.25,366.55L55.20,369.85Z"/>
<path d="M64.30,367.35L66.25,364.05L68.20,367.35Z"/>
<path d="M72.55,368.60L74.50,365.30L76.45,368.60Z"/>
<path d="M75.05,368.60L77.00,365.30L78.95,368.60Z"/>
<path d="M80.05,367.85L82.00,364.55L83.95,367.85Z"/>
<path d="M89.30,366.60L91.25,363.30L93.20,366.60Z"/>
<path d="M92.55,366.10L94.50,362.80L96.45,366.10Z"/>
<path d="M105.05,364.85L107.00,361.55L108.95,364.85Z"/>
<path d="M170.55,366.85L172.50,363.55L174.45,366.85Z"/>
<circle cx="45.50" cy="433.25" r="1.45"/>
<circle cx="54.25" cy="428.25" r="1.45"/>
<circle cx="60.00" cy="432.00" r="1.45"/>
<circle cx="81.75" cy="433.75" r="1.45"/>
<circle cx="85.00" cy="433.75" r="1.45"/>
<circle cx="90.75" cy="432.50" r="1.45"/>
<circle cx="105.75" cy="429.50" r="1.45"/>
<circle cx="117.50" cy="418.75" r="1.45"/>
<circle cx="130.00" cy="407.50" r="1.45"/>
<circle cx="177.00" cy="393.75" r="1.45"/>
<path d="M43.55,441.10L45.50,437.80L47.45,441.10Z"/>
<path d="M52.30,441.10L54.25,437.80L56.20,441.10Z"/>
<path d="M58.55,441.10L60.50,437.80L62.45,441.10Z"/>
<path d="M79.80,439.85L81.75,436.55L83.70,439.85Z"/>
<path d="M83.05,439.85L85.00,436.55L86.95,439.85Z"/>
<path d="M88.80,439.85L90.75,436.55L92.70,439.85Z"/>
<path d="M103.80,438.60L105.75,435.30L107.70,438.60Z"/>
<path d="M115.55,434.85L117.50,431.55L119.45,434.85Z"/>
<path d="M128.05,432.35L130.00,429.05L131.95,432.35Z"/>
<path d="M175.05,434.85L177.00,431.55L178.95,434.85Z"/>
<circle cx="45.50" cy="497.00" r="1.45"/>
<circle cx="53.75" cy="495.00" r="1.45"/>
<circle cx="68.75" cy="498.00" r="1.45"/>
<circle cx="84.50" cy="496.25" r="1.45"/>
<circle cx="87.50" cy="497.50" r="1.45"/>
<circle cx="92.50" cy="495.00" r="1.45"/>
<circle cx="98.25" cy="495.00" r="1.45"/>
<circle cx="101.25" cy="495.00" r="1.45"/>
<circle cx="107.50" cy="480.00" r="1.45"/>
<circle cx="177.50" cy="479.25" r="1.45"/>
<path d="M43.55,508.60L45.50,505.30L47.45,508.60Z"/>
<path d="M51.30,509.10L53.25,505.80L55.20,509.10Z"/>
<path d="M66.80,507.35L68.75,504.05L70.70,507.35Z"/>
<path d="M82.55,504.35L84.50,501.05L86.45,504.35Z"/>
<path d="M86.05,505.35L88.00,502.05L89.95,505.35Z"/>
<path d="M91.05,505.35L93.00,502.05L94.95,505.35Z"/>
<path d="M96.30,505.35L98.25,502.05L100.20,505.35Z"/>
<path d="M99.30,505.35L101.25,502.05L103.20,505.35Z"/>
<path d="M105.55,494.85L107.50,491.55L109.45,494.85Z"/>
<path d="M175.55,506.60L177.50,503.30L179.45,506.60Z"/>
<circle cx="45.50" cy="578.00" r="1.45"/>
<circle cx="63.00" cy="573.75" r="1.45"/>
<circle cx="70.00" cy="576.25" r="1.45"/>
<circle cx="80.75" cy="575.00" r="1.45"/>
<circle cx="83.75" cy="572.50" r="1.45"/>
<circle cx="88.25" cy="563.75" r="1.45"/>
<circle cx="93.25" cy="563.25" r="1.45"/>
<circle cx="100.00" cy="548.75" r="1.45"/>
<circle cx="113.00" cy="536.25" r="1.45"/>
<circle cx="168.75" cy="562.50" r="1.45"/>
<path d="M43.55,583.60L45.50,580.30L47.45,583.60Z"/>
<path d="M61.05,582.85L63.00,579.55L64.95,582.85Z"/>
<path d="M68.05,583.10L70.00,579.80L71.95,583.10Z"/>
<path d="M78.80,582.85L80.75,579.55L82.70,582.85Z"/>
<path d="M81.80,582.85L83.75,579.55L85.70,582.85Z"/>
<path d="M86.30,578.60L88.25,575.30L90.20,578.60Z"/>
<path d="M91.30,579.35L93.25,576.05L95.20,579.35Z"/>
<path d="M98.05,575.35L100.00,572.05L101.95,575.35Z"/>
<path d="M111.05,577.35L113.00,574.05L114.95,577.35Z"/>
<path d="M166.80,581.60L168.75,578.30L170.70,581.60Z"/>
<circle cx="44.40" cy="627.90" r="1.45"/>
<circle cx="61.30" cy="618.80" r="1.45"/>
<circle cx="70.90" cy="624.70" r="1.45"/>
<circle cx="77.60" cy="629.00" r="1.45"/>
<circle cx="81.40" cy="629.00" r="1.45"/>
<circle cx="86.10" cy="619.40" r="1.45"/>
<circle cx="88.20" cy="615.80" r="1.45"/>
<circle cx="90.50" cy="606.10" r="1.45"/>
<circle cx="94.60" cy="599.30" r="1.45"/>
<circle cx="140.70" cy="589.50" r="1.45"/>
<path d="M42.45,650.60L44.40,647.30L46.35,650.60Z"/>
<path d="M59.35,648.50L61.30,645.20L63.25,648.50Z"/>
<path d="M68.95,650.10L70.90,646.80L72.85,650.10Z"/>
<path d="M75.65,650.60L77.60,647.30L79.55,650.60Z"/>
<path d="M79.45,649.50L81.40,646.20L83.35,649.50Z"/>
<path d="M84.15,647.40L86.10,644.10L88.05,647.40Z"/>
<path d="M86.25,647.00L88.20,643.70L90.15,647.00Z"/>
<path d="M88.55,644.90L90.50,641.60L92.45,644.90Z"/>
<path d="M92.65,644.20L94.60,640.90L96.55,644.20Z"/>
<path d="M138.95,649.30L140.90,646.00L142.85,649.30Z"/>
</g>
<text x="185.21" y="111.60" font-size="10.78" textLength="12.33" lengthAdjust="spacingAndGlyphs" fill="#111">TAT</text>
<text x="184.78" y="123.80" font-size="10.57" textLength="14.15" lengthAdjust="spacingAndGlyphs" fill="#111">F1.2</text>
</svg>
</body></html>
